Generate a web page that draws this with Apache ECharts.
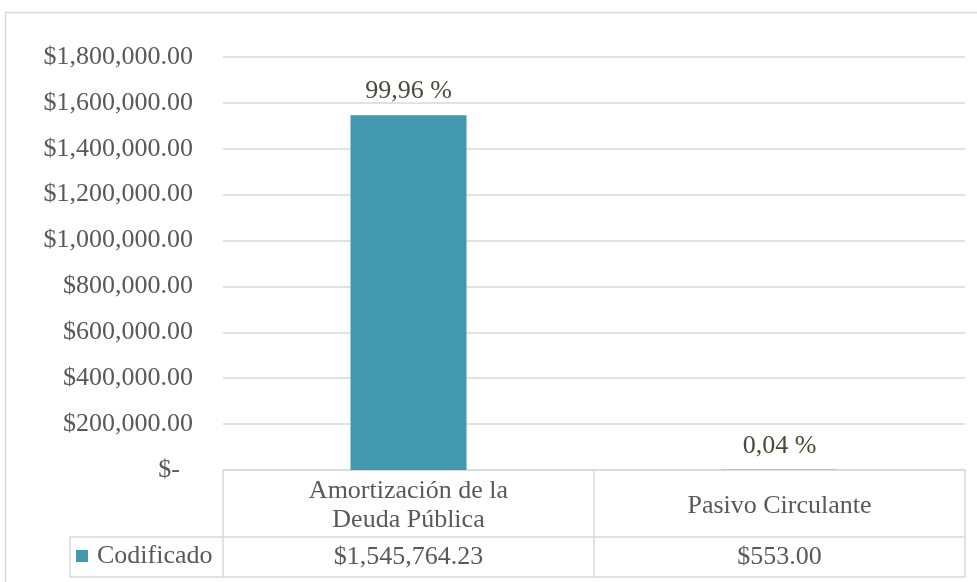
<!DOCTYPE html>
<html>
<head>
<meta charset="utf-8">
<script src="https://cdn.jsdelivr.net/npm/echarts@6/dist/echarts.min.js"></script>
<style>
  html, body { margin: 0; padding: 0; background: #fff; }
  #chart { width: 977px; height: 582px; }
</style>
</head>
<body>
<div id="chart"></div>
<script>
// datos de la gráfica
const categorias = ['Amortización de la\nDeuda Pública', 'Pasivo Circulante']
const codificado = [1545764.23, 553.00]
const nombreSerie = 'Codificado'

const fuente = 'Liberation Serif'
const gris = '#595959'
const linea = '#d9d9d9'

// formato de moneda tipo Excel
function moneda(v) {
    if (v === 0) return '$-  '
    return '$' + v.toLocaleString('en-US', { minimumFractionDigits: 2, maximumFractionDigits: 2 })
}
const total = codificado.reduce((a, b) => a + b, 0)

const myChart = echarts.init(document.getElementById('chart'))
const option = {
    animation: false,
    textStyle: { fontFamily: fuente },
    grid: { left: 223, right: 12, top: 57, bottom: 112, containLabel: false },
    legend: {
        data: [nombreSerie],
        left: 76,
        top: 543,
        padding: 0,
        icon: 'rect',
        itemWidth: 12,
        itemHeight: 12,
        textStyle: { fontFamily: fuente, fontSize: 26, color: gris, padding: [0, 0, 0, 4] }
    },
    xAxis: [
        {
            // fila de categorías de la tabla
            type: 'category',
            data: categorias,
            position: 'bottom',
            axisLine: { show: true, lineStyle: { color: linea, width: 1.5 } },
            axisTick: { show: true, length: 67, interval: 0, lineStyle: { color: linea, width: 1.5 } },
            axisLabel: {
                interval: 0,
                fontFamily: fuente,
                fontSize: 26,
                lineHeight: 29,
                color: gris,
                verticalAlign: 'middle',
                margin: 36
            }
        },
        {
            // fila de valores de la tabla
            type: 'category',
            data: codificado.map(moneda),
            position: 'bottom',
            offset: 67,
            axisLine: { show: true, lineStyle: { color: linea, width: 1.5 } },
            axisTick: { show: true, length: 40, interval: 0, lineStyle: { color: linea, width: 1.5 } },
            axisLabel: {
                interval: 0,
                fontFamily: fuente,
                fontSize: 26,
                color: gris,
                verticalAlign: 'middle',
                margin: 20
            }
        },
        {
            // borde inferior de la tabla
            type: 'category',
            data: categorias,
            position: 'bottom',
            offset: 107,
            axisLine: { show: true, lineStyle: { color: linea, width: 1.5 } },
            axisTick: { show: false },
            axisLabel: { show: false }
        }
    ],
    yAxis: {
        type: 'value',
        min: 0,
        max: 1800000,
        interval: 200000,
        axisLine: { show: false },
        axisTick: { show: false },
        splitLine: { lineStyle: { color: linea, width: 1.5 } },
        axisLabel: {
            formatter: moneda,
            fontFamily: fuente,
            fontSize: 26,
            color: gris,
            margin: 30
        }
    },
    series: [
        {
            name: nombreSerie,
            type: 'bar',
            data: codificado,
            barWidth: 116,
            itemStyle: { color: '#4198af' },
            label: {
                show: true,
                position: 'top',
                distance: 11,
                fontFamily: fuente,
                fontSize: 26,
                color: '#4a4a38',
                formatter: p => (p.value / total * 100).toFixed(2).replace('.', ',') + ' %'
            }
        }
    ],
    graphic: [
        {
            // borde exterior del gráfico
            type: 'rect',
            silent: true,
            shape: { x: 5.5, y: 12.5, width: 1000, height: 600 },
            style: { fill: 'none', stroke: linea, lineWidth: 1.5 }
        },
        {
            // celda de la leyenda
            type: 'polyline',
            silent: true,
            shape: { points: [[223, 537], [70, 537], [70, 577], [223, 577]] },
            style: { fill: 'none', stroke: linea, lineWidth: 1.5 }
        }
    ]
}
myChart.setOption(option)
</script>
</body>
</html>
